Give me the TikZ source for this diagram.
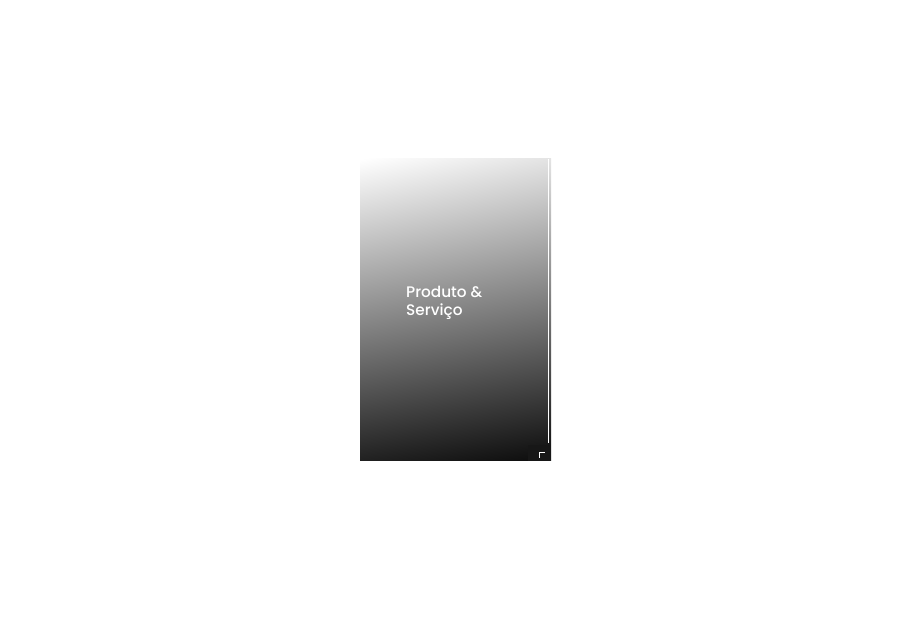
\documentclass[tikz,border=0pt]{standalone}
\usepackage{fontspec}
\newfontfamily\labelfont{Poppins Medium}
\usepackage{tikz}
\usetikzlibrary{shadings}
\definecolor{cardDark}{rgb}{0.09,0.09,0.09}

\begin{document}
\begin{tikzpicture}[x=1pt, y=-1pt,
	card/.style={upper left=white, upper right=black!11, lower left=black!87, lower right=black!95},
	cardlabel/.style={text=white, font=\labelfont\fontsize{15.3}{18}\selectfont, align=left, anchor=north west, inner sep=0pt},
	edge/.style={draw=white, line width=1.4pt}]

    \useasboundingbox (0,0) rectangle (908,620);
    \shade[card] (360,159) rectangle (551,460);
    \node[cardlabel] (label) at (406,286) {Produto \&\\Serviço};
    % right edge and corner tab
    \coordinate (edgeTop) at (548.3,159);
    \coordinate (edgeBot) at (548.3,443);
    \draw[edge] (edgeTop) -- (edgeBot);
    \fill[cardDark] (528,445) rectangle (551,461);
    \coordinate (tabA) at (544.5,452.5);
    \coordinate (tabB) at (539.5,452.5);
    \coordinate (tabC) at (539.5,457.5);
    \draw[white, line width=1.2pt] (tabA) -- (tabB) -- (tabC);
    \end{tikzpicture}
\end{document}
